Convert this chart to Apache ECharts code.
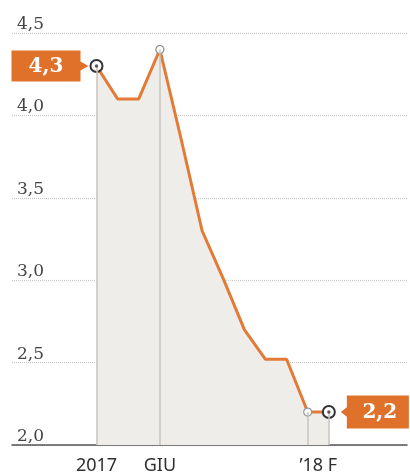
<!DOCTYPE html>
<html>
<head>
<meta charset="utf-8">
<script src="https://cdn.jsdelivr.net/npm/echarts@6/dist/echarts.min.js"></script>
<style>
  html, body { margin: 0; padding: 0; background: #ffffff; }
  #chart { width: 410px; height: 475px; }
</style>
</head>
<body>
<div id="chart"></div>
<script>
// Period positions (monthly steps) and rate values
const periods = [0, 1, 2, 3, 4, 5, 6, 7, 8, 9, 10, 11];
const rates = [4.3, 4.1, 4.1, 4.4, 3.86, 3.3, 3.01, 2.7, 2.52, 2.52, 2.2, 2.2];

// x-axis tick labels and where they sit
const xTickPos = [0, 3, 10.5];
const xTickLabels = ['2017', 'GIU', '\u201918 F'];

// y-axis ticks
const yTicks = [2.0, 2.5, 3.0, 3.5, 4.0, 4.5];

// periods with a drop line to the axis
const dropIdx = [0, 3, 10, 11];
// highlighted endpoints (target marker) and open markers
const targetIdx = [0, 11];
const openIdx = [3, 10];
// callout boxes
const calloutIdx = [0, 11];

const ORANGE_LINE = '#e37a35';
const ORANGE_BOX = '#e0712b';

const chart = echarts.init(document.getElementById('chart'), null, { renderer: 'canvas' });

const fmtNum = v => v.toFixed(1).replace('.', ',');
const pairs = periods.map((p, i) => [p, rates[i]]);

const lineData = periods.map((p, i) => {
  const item = { value: [p, rates[i]], symbol: 'none' };
  if (targetIdx.includes(i)) {
    item.symbol = 'circle';
    item.symbolSize = 12;
    item.itemStyle = { color: '#ffffff', borderColor: '#333333', borderWidth: 2 };
  } else if (openIdx.includes(i)) {
    item.symbol = 'circle';
    item.symbolSize = 8;
    item.itemStyle = { color: '#ffffff', borderColor: i === 10 ? '#8d9aa6' : '#8a8a8a', borderWidth: 1.2 };
  }
  return item;
});

const boxRight = 'path://M0,0 L69,0 L69,11 L77,15.5 L69,20 L69,31 L0,31 Z';
const boxLeft = 'path://M6,0 L68,0 L68,31 L6,31 L6,20 L0,15.5 L6,11 Z';

const callouts = calloutIdx.map(i => {
  const left = i === calloutIdx[0];
  return {
    coord: [periods[i], rates[i]],
    value: fmtNum(rates[i]),
    symbol: left ? boxRight : boxLeft,
    symbolSize: left ? [77, 31] : [68, 33],
    symbolKeepAspect: false,
    symbolOffset: left ? [-46.5, 0] : [46, 0],
    itemStyle: { color: ORANGE_BOX },
    label: {
      show: true,
      position: 'inside',
      offset: left ? [-4, 1] : [5, 1],
      formatter: fmtNum(rates[i]),
      color: '#ffffff',
      fontFamily: 'DejaVu Serif',
      fontWeight: 'bold',
      fontSize: 20
    }
  };
});

const drops = dropIdx.map(i => [
  { coord: [periods[i], yTicks[0]] },
  { coord: [periods[i], rates[i]] }
]);

const option = {
  animation: false,
  backgroundColor: '#ffffff',
  grid: { left: 12, right: 0, top: 33, bottom: 30, containLabel: false },
  xAxis: {
    type: 'value',
    min: -4,
    max: 14.7,
    interval: 0.5,
    axisLine: { show: true, onZero: false, lineStyle: { color: '#555555', width: 1.5 } },
    axisTick: { show: false },
    splitLine: { show: false },
    axisLabel: {
      show: true,
      margin: 12,
      showMinLabel: true,
      showMaxLabel: true,
      color: '#2f2f2f',
      fontFamily: 'Noto Sans',
      fontSize: 18,
      formatter: v => {
        const k = xTickPos.findIndex(p => Math.abs(p - v) < 1e-6);
        return k >= 0 ? xTickLabels[k] : '';
      }
    }
  },
  yAxis: {
    type: 'value',
    min: yTicks[0],
    max: yTicks[yTicks.length - 1],
    interval: 0.5,
    axisLine: { show: false },
    axisTick: { show: false },
    splitLine: { show: true, lineStyle: { color: '#c8c8c8', type: [1, 1], width: 1.2 } },
    axisLabel: {
      inside: true,
      margin: 5,
      align: 'left',
      verticalAlign: 'bottom',
      color: '#444444',
      fontFamily: 'DejaVu Serif',
      fontSize: 17,
      formatter: v => {
        const k = yTicks.findIndex(t => Math.abs(t - v) < 1e-6);
        return k >= 0 ? fmtNum(yTicks[k]) : '';
      }
    }
  },
  series: [
    {
      // shaded area under the rate line
      type: 'line',
      data: pairs,
      z: 1,
      symbol: 'none',
      lineStyle: { width: 0 },
      areaStyle: { color: '#eeede9', origin: 'start', opacity: 1 },
      silent: true
    },
    {
      // drop lines from marked periods down to the axis
      type: 'line',
      data: [],
      z: 2,
      markLine: {
        silent: true,
        symbol: ['none', 'none'],
        label: { show: false },
        lineStyle: { color: '#c9c5bf', width: 1.5, type: 'solid' },
        data: drops
      }
    },
    {
      type: 'line',
      data: lineData,
      z: 3,
      lineStyle: { color: ORANGE_LINE, width: 3 },
      itemStyle: { color: ORANGE_LINE },
      markPoint: {
        silent: true,
        data: callouts
      }
    },
    {
      // inner dots of the endpoint markers
      type: 'scatter',
      z: 6,
      symbol: 'circle',
      symbolSize: 3.5,
      itemStyle: { color: '#333333' },
      data: targetIdx.map(i => [periods[i], rates[i]])
    }
  ]
};

chart.setOption(option);
</script>
</body>
</html>
